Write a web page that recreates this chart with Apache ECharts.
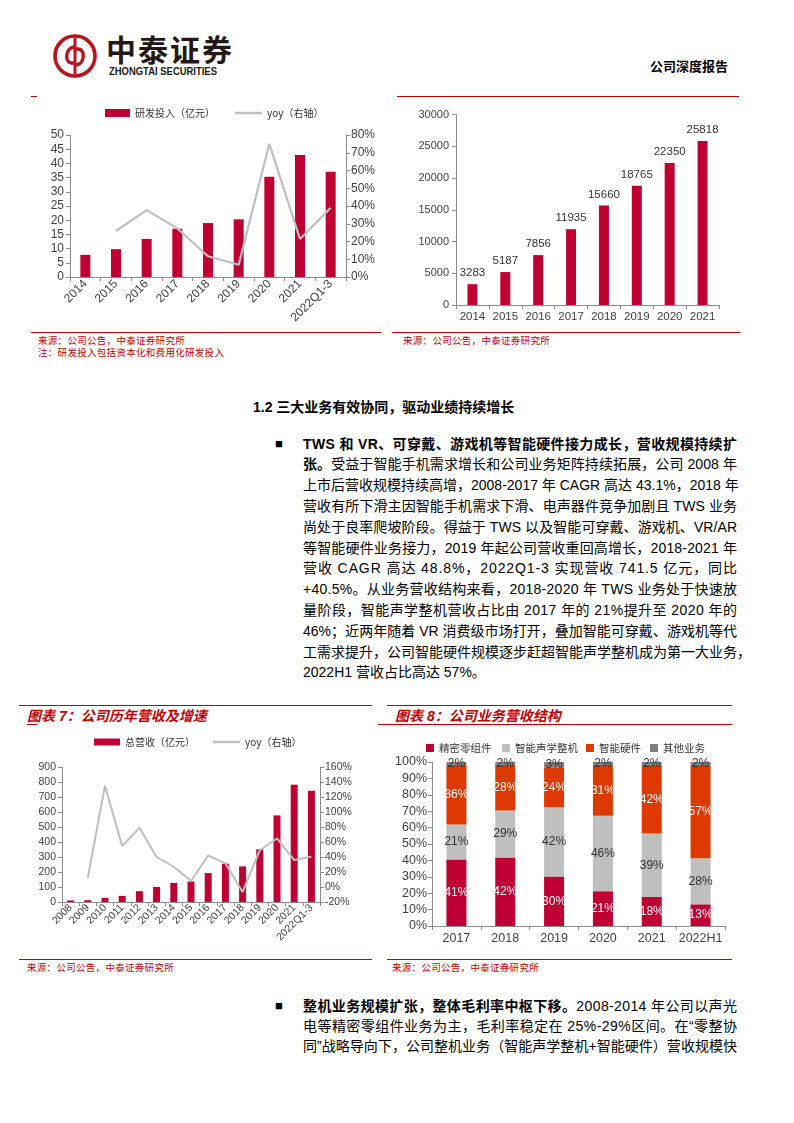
<!DOCTYPE html>
<html><head><meta charset="utf-8">
<script src="https://cdn.jsdelivr.net/npm/echarts@6/dist/echarts.min.js"></script>
<style>
html,body{margin:0;padding:0;background:#fff}
body{width:794px;height:1123px;position:relative;overflow:hidden;font-family:"Liberation Sans","Noto Sans CJK SC",sans-serif;color:#000}
.rl{position:absolute;height:1.3px;background:#C00000}
.src{position:absolute;font-size:9.5px;letter-spacing:0.3px;color:#C00000;font-family:"Noto Sans CJK SC",sans-serif;white-space:nowrap;line-height:12px}
.ttl{position:absolute;font-size:14px;font-weight:bold;font-style:italic;color:#C00000;white-space:nowrap;line-height:18px}
.chart{position:absolute}
.para{position:absolute;left:303px;width:434px;font-size:14px}
.para .ln{white-space:nowrap;height:20.8px;line-height:20.8px}
.para2 .ln{height:20px;line-height:20px}
.para b{font-weight:bold}
.bul{position:absolute;font-size:13px;line-height:14px}
</style></head>
<body>
<!-- header -->
<svg style="position:absolute;left:52px;top:33px" width="46" height="46" viewBox="0 0 46 46">
  <circle cx="23" cy="23" r="20" fill="none" stroke="#B8141E" stroke-width="3.6"/>
  <path d="M23 5 L23 41" stroke="#B8141E" stroke-width="3"/>
  <path d="M23 14 C13 14 12 30 20 30 L23 30" fill="none" stroke="#B8141E" stroke-width="3.4"/>
  <path d="M23 16 L26 16 C34 16 33 32 23 32" fill="none" stroke="#B8141E" stroke-width="3.4"/>
</svg>
<div style="position:absolute;left:106px;top:31px;font-size:30px;font-weight:bold;letter-spacing:2px;color:#231815;font-family:'Noto Sans CJK SC';line-height:34px;white-space:nowrap">中泰证券</div>
<div style="position:absolute;left:109px;top:65px;font-size:10.5px;font-weight:bold;color:#231815;line-height:12px;white-space:nowrap;transform:scaleX(0.9);transform-origin:left">ZHONGTAI SECURITIES</div>
<div style="position:absolute;left:650px;top:58px;font-size:13px;font-weight:bold;font-family:'Noto Sans CJK SC';line-height:16px;white-space:nowrap">公司深度报告</div>
<div class="rl" style="left:31px;top:95.5px;width:6px"></div>
<div class="rl" style="left:397px;top:95.5px;width:342px"></div>

<!-- top charts -->
<div id="c1" class="chart" style="left:20px;top:100px;width:370px;height:230px"></div>
<div id="c2" class="chart" style="left:395px;top:100px;width:350px;height:230px"></div>
<div class="rl" style="left:31px;top:331.5px;width:350px"></div>
<div class="rl" style="left:392px;top:331.5px;width:5px"></div>
<div class="rl" style="left:396px;top:331.5px;width:344px"></div>
<div class="src" style="left:38px;top:334px">来源：公司公告，中泰证券研究所</div>
<div class="src" style="left:38px;top:346px">注：研发投入包括资本化和费用化研发投入</div>
<div class="src" style="left:403px;top:334px">来源：公司公告，中泰证券研究所</div>

<!-- section heading -->
<div style="position:absolute;left:253px;top:398px;font-size:14px;font-weight:bold;line-height:18px;white-space:nowrap">1.2 三大业务有效协同，驱动业绩持续增长</div>

<div class="bul" style="left:275px;top:437px">■</div>
<div class="para" id="p1" style="top:433.6px">
<div class="ln j"><b>TWS 和 VR、可穿戴、游戏机等智能硬件接力成长，营收规模持续扩</b></div>
<div class="ln j"><b>张。</b>受益于智能手机需求增长和公司业务矩阵持续拓展，公司 2008 年</div>
<div class="ln j">上市后营收规模持续高增，2008-2017 年 CAGR 高达 43.1%，2018 年</div>
<div class="ln j">营收有所下滑主因智能手机需求下滑、电声器件竞争加剧且 TWS 业务</div>
<div class="ln j">尚处于良率爬坡阶段。得益于 TWS 以及智能可穿戴、游戏机、VR/AR</div>
<div class="ln j">等智能硬件业务接力，2019 年起公司营收重回高增长，2018-2021 年</div>
<div class="ln j">营收 CAGR 高达 48.8%，2022Q1-3 实现营收 741.5 亿元，同比</div>
<div class="ln j">+40.5%。从业务营收结构来看，2018-2020 年 TWS 业务处于快速放</div>
<div class="ln j">量阶段，智能声学整机营收占比由 2017 年的 21%提升至 2020 年的</div>
<div class="ln j">46%；近两年随着 VR 消费级市场打开，叠加智能可穿戴、游戏机等代</div>
<div class="ln j">工需求提升，公司智能硬件规模逐步赶超智能声学整机成为第一大业务，</div>
<div class="ln">2022H1 营收占比高达 57%。</div>
</div>

<!-- figure 7 / 8 frames -->
<div class="rl" style="left:19px;top:704.5px;width:353px"></div>
<div class="rl" style="left:387px;top:704.5px;width:345px"></div>
<div class="ttl" style="left:27px;top:707px">图表 7：公司历年营收及增速</div>
<div class="ttl" style="left:395px;top:707px">图表 8：公司业务营收结构</div>
<div class="rl" style="left:27px;top:723.5px;width:10px"></div>
<div class="rl" style="left:378px;top:723.5px;width:354px"></div>
<div id="c7" class="chart" style="left:20px;top:728px;width:370px;height:228px"></div>
<div id="c8" class="chart" style="left:385px;top:728px;width:360px;height:228px"></div>
<div class="rl" style="left:19px;top:958.5px;width:353px"></div>
<div class="rl" style="left:387px;top:958.5px;width:345px"></div>
<div class="src" style="left:27px;top:961px">来源：公司公告，中泰证券研究所</div>
<div class="src" style="left:392px;top:961px">来源：公司公告，中泰证券研究所</div>

<div class="bul" style="left:275px;top:999px">■</div>
<div class="para para2" id="p2" style="top:995.7px">
<div class="ln j"><b>整机业务规模扩张，整体毛利率中枢下移。</b>2008-2014 年公司以声光</div>
<div class="ln j">电等精密零组件业务为主，毛利率稳定在 25%-29%区间。在“零整协</div>
<div class="ln j">同”战略导向下，公司整机业务（智能声学整机+智能硬件）营收规模快</div>
</div>

<script>
// ---------------- data ----------------
const rdYears = ['2014','2015','2016','2017','2018','2019','2020','2021','2022Q1-3'];
const rdSpend = [7.8, 9.8, 13.4, 17.0, 19.0, 20.3, 35.3, 43.0, 37.1];
const rdYoy = [null, 25.9, 37.7, 27.4, 11.7, 6.9, 75.0, 21.4, 39.0];

const staffYears = ['2014','2015','2016','2017','2018','2019','2020','2021'];
const staffCount = [3283, 5187, 7856, 11935, 15660, 18765, 22350, 25818];

const revYears = ['2008','2009','2010','2011','2012','2013','2014','2015','2016','2017','2018','2019','2020','2021','2022Q1-3'];
const revenue = [10.6, 11.9, 27.9, 40.6, 72.0, 100.4, 127.0, 136.5, 192.9, 255.4, 237.5, 351.5, 577.4, 782.2, 741.5];
const revYoy = [null, 12, 135, 54.5, 79, 40, 27, 8, 42, 31.5, -6.6, 49, 64.7, 35.9, 40.5];

const mixYears = ['2017','2018','2019','2020','2021','2022H1'];
const mixNames = ['精密零组件','智能声学整机','智能硬件','其他业务'];
const mixParts = [40.6, 41.8, 30.2, 21.2, 17.7, 13.2];
const mixAcoustic = [21.3, 28.7, 42.3, 46.0, 38.7, 28.1];
const mixHardware = [36.3, 27.7, 24.2, 31.0, 41.8, 56.9];
const mixOther = [1.8, 1.8, 3.3, 1.8, 1.8, 1.8];

// ---------------- styles ----------------
const RED = '#BE0032', GRAY = '#BFBFBF', ORANGE = '#DC3A00', DGRAY = '#7F7F7F';
const AX = '#8C8C8C', TXT = '#404040';
const NUMF = '"Liberation Sans", Arial, sans-serif';
const CJKF = '"Noto Sans CJK SC", sans-serif';
const axLine = {show:true, lineStyle:{color:AX, width:1}};
const axTick = {show:true, lineStyle:{color:AX, width:1}, length:4};
const legTxt = {fontSize:10, color:'#333', fontFamily:CJKF, lineHeight:14};

function mk(id, opt){
  const c = echarts.init(document.getElementById(id), null, {renderer:'canvas'});
  opt.animation = false;
  c.setOption(opt);
}
function barLeg(name, left, top, w, h, fs){
  return {data:[{name, icon:'rect'}], left, top, padding:0, itemWidth:w, itemHeight:h, itemGap:0,
    textStyle:Object.assign({}, legTxt, fs ? {fontSize:fs} : {})};
}
function lineLeg(name, left, top){
  return {data:[{name, icon:'rect', itemStyle:{color:GRAY}}], left, top, padding:0, itemWidth:27, itemHeight:2.5,
    textStyle:legTxt};
}

// Chart 1: R&D spend
mk('c1', {
  legend:[ barLeg('研发投入（亿元）', 85, 6, 25, 8), lineLeg('yoy（右轴）', 215, 6) ],
  grid:{left:50, right:44, top:35, bottom:53},
  xAxis:{type:'category', data:rdYears, axisLine:axLine, axisTick:axTick,
    axisLabel:{rotate:45, interval:0, fontSize:12, color:TXT, fontFamily:NUMF, margin:5}},
  yAxis:[
    {type:'value', min:0, max:50, interval:5, axisLine:axLine, axisTick:axTick, splitLine:{show:false},
      axisLabel:{fontSize:12, color:TXT, fontFamily:NUMF, margin:6}},
    {type:'value', min:0, max:80, interval:10, position:'right', axisLine:axLine, axisTick:axTick, splitLine:{show:false},
      axisLabel:{fontSize:12, color:TXT, fontFamily:NUMF, margin:5, formatter:'{value}%'}}
  ],
  series:[
    {type:'bar', name:'研发投入（亿元）', data:rdSpend, barWidth:10, itemStyle:{color:RED}},
    {type:'line', name:'yoy（右轴）', yAxisIndex:1, data:rdYoy, symbol:'none', lineStyle:{color:GRAY, width:2.2}, itemStyle:{color:GRAY}}
  ]
});

// Chart 2: staff count
mk('c2', {
  grid:{left:61, right:26, top:14.5, bottom:25},
  xAxis:{type:'category', data:staffYears, axisLine:axLine, axisTick:axTick,
    axisLabel:{interval:0, fontSize:11.5, color:TXT, fontFamily:NUMF, margin:6}},
  yAxis:{type:'value', min:0, max:30000, interval:5000, axisLine:axLine, axisTick:axTick, splitLine:{show:false},
    axisLabel:{fontSize:11, color:TXT, fontFamily:NUMF, margin:7, formatter:v => String(v)}},
  series:[{type:'bar', data:staffCount, barWidth:10, itemStyle:{color:RED},
    label:{show:true, position:'top', distance:5, fontSize:11.5, color:'#333', fontFamily:NUMF}}]
});

// Chart 7: revenue
mk('c7', {
  legend:[ barLeg('总营收（亿元）', 74, 7, 26, 7), lineLeg('yoy（右轴）', 193, 7) ],
  grid:{left:42, right:70, top:39, bottom:54},
  xAxis:{type:'category', data:revYears, axisLine:axLine, axisTick:axTick,
    axisLabel:{rotate:45, interval:0, fontSize:10.5, color:TXT, fontFamily:NUMF, margin:4}},
  yAxis:[
    {type:'value', min:0, max:900, interval:100, axisLine:axLine, axisTick:axTick, splitLine:{show:false},
      axisLabel:{fontSize:10.5, color:TXT, fontFamily:NUMF, margin:6}},
    {type:'value', min:-20, max:160, interval:20, position:'right', axisLine:axLine, axisTick:axTick, splitLine:{show:false},
      axisLabel:{fontSize:10.5, color:TXT, fontFamily:NUMF, margin:5, formatter:'{value}%'}}
  ],
  series:[
    {type:'bar', name:'总营收（亿元）', data:revenue, barWidth:7, itemStyle:{color:RED}},
    {type:'line', name:'yoy（右轴）', yAxisIndex:1, data:revYoy, symbol:'none', lineStyle:{color:GRAY, width:2}, itemStyle:{color:GRAY}}
  ]
});

// Chart 8: revenue mix
const pct = p => Math.round(p.value) + '%';
function stack(name, data, color, lc){
  return {type:'bar', name, data, stack:'a', barWidth:20, itemStyle:{color},
    label:{show:true, position:'inside', formatter:pct, fontSize:12, color:lc, fontFamily:NUMF}};
}
const legX8 = [41, 117, 201, 265];
mk('c8', {
  legend: mixNames.map((n, i) => barLeg(n, legX8[i], 13, 8, 8, 10.5)),
  grid:{left:47, right:20, top:34, bottom:30},
  xAxis:{type:'category', data:mixYears, axisLine:axLine, axisTick:axTick,
    axisLabel:{interval:0, fontSize:12.5, color:TXT, fontFamily:NUMF, margin:6}},
  yAxis:{type:'value', min:0, max:100, interval:10, axisLine:axLine, axisTick:axTick, splitLine:{show:false},
    axisLabel:{fontSize:12.5, color:TXT, fontFamily:NUMF, margin:5, formatter:'{value}%'}},
  series:[
    stack(mixNames[0], mixParts, RED, '#fff'),
    stack(mixNames[1], mixAcoustic, GRAY, '#333'),
    stack(mixNames[2], mixHardware, ORANGE, '#fff'),
    stack(mixNames[3], mixOther, DGRAY, '#333')
  ]
});

// justify text lines to the column width
function justify(){
  document.querySelectorAll('.para').forEach(p => {
    const W = p.clientWidth;
    p.querySelectorAll('.ln.j').forEach(ln => {
      ln.style.letterSpacing = '0px';
      const r = document.createRange(); r.selectNodeContents(ln);
      const w = r.getBoundingClientRect().width;
      const n = ln.textContent.length;
      if (w < W && n > 1) ln.style.letterSpacing = ((W - w) / (n - 1)) + 'px';
    });
  });
}
justify();
if (document.fonts && document.fonts.ready) document.fonts.ready.then(justify);
</script>
</body></html>
